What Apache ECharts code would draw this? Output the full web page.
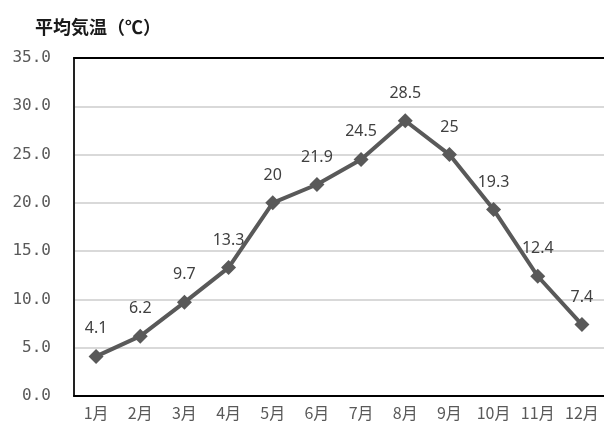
<!DOCTYPE html>
<html>
<head>
<meta charset="utf-8">
<script src="https://cdn.jsdelivr.net/npm/echarts@6/dist/echarts.min.js"></script>
<style>
  html, body { margin: 0; padding: 0; background: #fff; }
  #chart { width: 604px; height: 428px; }
</style>
</head>
<body>
<div id="chart"></div>
<script>
// Monthly mean temperature
const months = ['1月', '2月', '3月', '4月', '5月', '6月', '7月', '8月', '9月', '10月', '11月', '12月'];
const avgTemp = [4.1, 6.2, 9.7, 13.3, 20, 21.9, 24.5, 28.5, 25, 19.3, 12.4, 7.4];
const yMin = 0;
const yMax = 35;
const yStep = 5;
const titleText = '平均気温（℃）';

const chart = echarts.init(document.getElementById('chart'), null, { renderer: 'canvas' });

chart.setOption({
  animation: false,
  backgroundColor: '#ffffff',
  title: {
    text: titleText,
    left: 30,
    top: 13,
    textStyle: {
      fontFamily: '"Noto Sans CJK JP", sans-serif',
      fontSize: 18,
      fontWeight: 'bold',
      color: '#1a1a1a'
    }
  },
  grid: { left: 74, right: -3, top: 58, bottom: 32, containLabel: false },
  xAxis: [
    {
      type: 'category',
      data: months,
      boundaryGap: true,
      axisLine: { show: true, lineStyle: { color: '#000', width: 2 } },
      axisTick: { show: false },
      axisLabel: {
        margin: 9,
        fontFamily: '"Noto Sans CJK JP", sans-serif',
        fontSize: 16,
        color: '#595959'
      }
    },
    {
      // closes the plot box along the top edge
      type: 'category',
      data: months,
      position: 'top',
      axisLine: { show: true, lineStyle: { color: '#000', width: 2 } },
      axisTick: { show: false },
      axisLabel: { show: false }
    }
  ],
  yAxis: {
    type: 'value',
    min: yMin,
    max: yMax,
    interval: yStep,
    axisLine: { show: true, lineStyle: { color: '#222', width: 2 } },
    axisTick: { show: false },
    splitLine: { show: true, lineStyle: { color: '#d9d9d9', width: 2 } },
    axisLabel: {
      margin: 23,
      formatter: v => v.toFixed(1),
      fontFamily: '"DejaVu Sans Mono", monospace',
      fontSize: 16,
      color: '#595959'
    }
  },
  series: [
    {
      type: 'line',
      data: avgTemp,
      xAxisIndex: 0,
      symbol: 'diamond',
      symbolSize: 15,
      lineStyle: { color: '#595959', width: 4 },
      itemStyle: { color: '#595959' },
      label: {
        show: true,
        position: 'top',
        distance: 12,
        fontFamily: '"Noto Sans", sans-serif',
        fontSize: 16,
        color: '#404040'
      },
      z: 5
    }
  ]
});
</script>
</body>
</html>
